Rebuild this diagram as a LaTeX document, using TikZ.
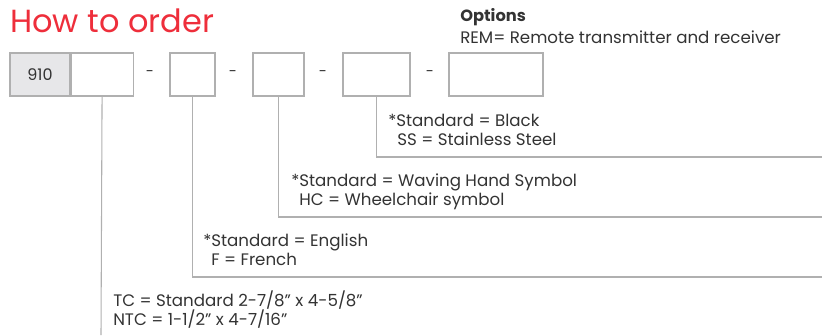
\documentclass[tikz,border=0pt]{standalone}
\usepackage{fontspec}
\setmainfont{Poppins}
\usepackage{xcolor}
\usetikzlibrary{positioning}
\definecolor{titlered}{HTML}{EE2E3B}
\definecolor{linegray}{HTML}{B0B0B0}
\definecolor{codegray}{HTML}{E7E7E9}
\definecolor{inkgray}{HTML}{333333}

\begin{document}
\begin{tikzpicture}[
    x=0.75pt, y=-0.75pt,
    field/.style={rectangle, draw=linegray, line width=0.8pt, minimum height=32.25pt, inner sep=0pt, text=inkgray, font=\fontsize{12}{14}\selectfont},
    sepmark/.style={text=inkgray, font=\fontsize{11}{13}\selectfont},
    lead/.style={draw=linegray, line width=0.8pt},
    note/.style={anchor=base west, inner sep=0pt, text=inkgray, font=\fontsize{12.5}{14}\selectfont}
]
\useasboundingbox (0,0) rectangle (830,335);

\node[anchor=base west, inner sep=0pt, text=titlered, font=\fontsize{24}{28}\selectfont] (title) at (10,32.7) {How to order};

% order code fields
\node[field, fill=codegray, minimum width=45pt] (code) at (40,74.5) {910};
\node[field, minimum width=46.5pt, right=0pt of code] (f1) {};
\node[field, minimum width=33.75pt] (f2) at (192.5,74.5) {};
\node[field, minimum width=38.25pt] (f3) at (278.5,74.5) {};
\node[field, minimum width=50.25pt] (f4) at (376.5,74.5) {};
\node[field, minimum width=70.5pt] (f5) at (496,74.5) {};
\node[sepmark] (s1) at (150,74) {-};
\node[sepmark] (s2) at (233,74) {-};
\node[sepmark] (s3) at (323,74) {-};
\node[sepmark] (s4) at (430,74) {-};

% options
\node[note, font=\fontsize{12.2}{14}\bfseries\selectfont] (opt) at (460,22) {Options};
\node[note] (rem) at (460,43.5) {REM= Remote transmitter and receiver};

% leaders
\coordinate (e1) at (101,335);
\coordinate (e2) at (822,277);
\coordinate (e3) at (822,217);
\coordinate (e4) at (822,157);
\draw[lead] (f1.south) -- (e1);
\draw[lead] (f2.south) |- (e2);
\draw[lead] (f3.south) |- (e3);
\draw[lead] (f4.south) |- (e4);

% notes
\node[note] (finA) at (388,126.7) {*Standard = Black};
\node[note] (finB) at (397,145.5) {SS = Stainless Steel};
\node[note] (symA) at (291,186.5) {*Standard = Waving Hand Symbol};
\node[note] (symB) at (299,205.5) {HC = Wheelchair symbol};
\node[note] (lanA) at (203,246.5) {*Standard = English};
\node[note] (lanB) at (211,265.5) {F = French};
\node[note] (sizA) at (113,306.5) {TC = Standard 2-7/8" x 4-5/8"};
\node[note] (sizB) at (113,325.5) {NTC = 1-1/2" x 4-7/16"};

\end{tikzpicture}
\end{document}
